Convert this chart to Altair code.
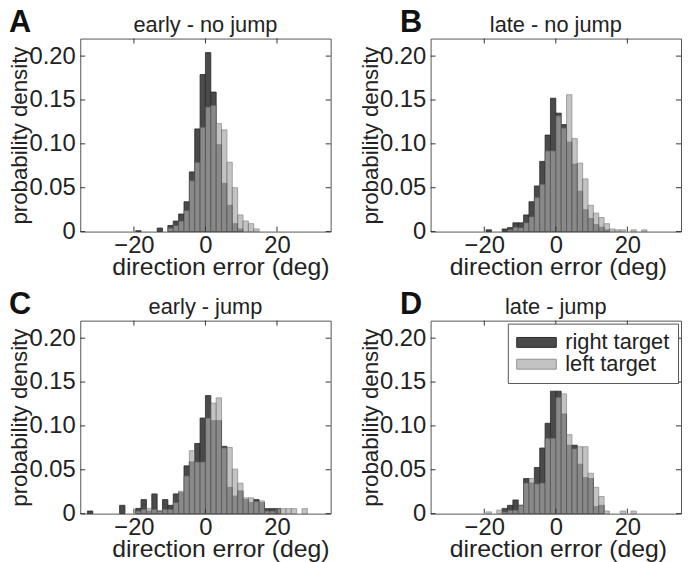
import altair as alt
import pandas as pd

BIN = 1.5
X_TICKS = [-20, 0, 20]
Y_TICKS = [0, 0.05, 0.10, 0.15, 0.20]
TARGETS = ["right target", "left target"]
TITLES = ["early - no jump", "late - no jump", "early - jump", "late - jump"]
LETTERS = ["A", "B", "C", "D"]

# bin index k -> bin [k*BIN, (k+1)*BIN]
A_K = [-13, -9, -7, -6, -5, -4, -3, -2, -1, 0, 1, 2, 3, 4, 5, 6, 7, 8, 9]
A_RIGHT = [0.001, 0.004, 0.007, 0.012, 0.020, 0.034, 0.068, 0.117, 0.179, 0.204,
           0.159, 0.099, 0.055, 0.030, 0.009, 0.003, 0, 0, 0]
A_LEFT = [0, 0, 0.004, 0.007, 0.012, 0.024, 0.058, 0.079, 0.119, 0.142,
          0.144, 0.123, 0.116, 0.079, 0.050, 0.019, 0.012, 0.009, 0.003]

B_K = [-13, -10, -9, -8, -7, -6, -5, -4, -3, -2, -1, 0, 1, 2, 3, 4, 5, 6, 7, 8, 9,
       10, 11, 12, 14, 16]
B_RIGHT = [0.002, 0.003, 0.0045, 0.010, 0.010, 0.019, 0.034, 0.052, 0.080, 0.110,
           0.152, 0.135, 0.122, 0.102, 0.077, 0.046, 0.025, 0.015, 0.008, 0.005,
           0.002, 0, 0, 0, 0, 0]
B_LEFT = [0, 0, 0.002, 0.005, 0.0045, 0.010, 0.017, 0.039, 0.054, 0.092, 0.092,
          0.132, 0.118, 0.156, 0.106, 0.078, 0.060, 0.030, 0.021, 0.016, 0.009,
          0.003, 0.002, 0.002, 0.002, 0.002]

C_K = [-22, -16, -13, -12, -11, -10, -9, -8, -7, -6, -5, -4, -3, -2, -1, 0, 1, 2, 3,
       4, 5, 6, 7, 8, 9, 10, 11, 12, 13, 14, 15, 16, 18]
C_RIGHT = [0.003, 0.0095, 0.006, 0.016, 0.003, 0.0225, 0.003, 0.016, 0.0095, 0.0225,
           0.024, 0.0545, 0.059, 0.080, 0.109, 0.1346, 0.106, 0.106, 0.0767, 0.030,
           0.020, 0.026, 0.016, 0.0126, 0.016, 0.0126, 0.0057, 0.0057, 0.0057, 0, 0,
           0, 0]
C_LEFT = [0, 0, 0.003, 0.005, 0.006, 0.005, 0.003, 0.005, 0.005, 0.0126, 0.0255,
          0.043, 0.0717, 0.059, 0.059, 0.109, 0.126, 0.132, 0.075, 0.0755, 0.0507,
          0.0347, 0.018, 0.018, 0.014, 0.0145, 0.003, 0.003, 0.0057, 0.0057, 0.0057,
          0.0057, 0.0057]

D_K = [-13, -11, -10, -9, -8, -7, -6, -5, -4, -3, -2, -1, 0, 1, 2, 3, 4, 5, 6, 7, 8,
       9, 12, 14]
D_RIGHT = [0, 0, 0.006, 0.0095, 0.0156, 0.0095, 0.040, 0.035, 0.0526, 0.0748, 0.103,
           0.1396, 0.1396, 0.1137, 0.078, 0.078, 0.0564, 0.041, 0.040, 0.008, 0.0095,
           0, 0, 0]
D_LEFT = [0.002, 0.004, 0.002, 0.004, 0.004, 0.0095, 0.035, 0.040, 0.034, 0.035,
          0.086, 0.086, 0.1327, 0.1365, 0.090, 0.074, 0.0763, 0.0763, 0.046, 0.030,
          0.0195, 0.003, 0.003, 0.003]

W, H = 253, 195
FONT = "Liberation Sans"
TXT = "#222222"


def make_df(ks, right, left):
    rows = []
    for name, vals in ((TARGETS[0], right), (TARGETS[1], left)):
        for k, v in zip(ks, vals):
            if v > 0:
                rows.append({"x0": k * BIN, "x1": (k + 1) * BIN,
                             "density": v, "target": name})
    return pd.DataFrame(rows)


xs = alt.Scale(domain=[-35, 35], nice=False, zero=False)
ys = alt.Scale(domain=[0, 0.22], nice=False, zero=True)


def panel(df, title, letter, letter_x, title_dx, legend):
    x_axis = alt.Axis(values=X_TICKS, ticks=False, domain=False, grid=False,
                      labelFontSize=24, labelPadding=2, labelColor=TXT,
                      title="direction error (deg)", titleFontSize=25,
                      titleFontWeight="normal", titleColor=TXT,
                      titleX=W / 2 + title_dx, titleY=43, titleAlign="center",
                      titleBaseline="alphabetic")
    y_axis = alt.Axis(values=Y_TICKS, ticks=False, domain=False, grid=False,
                      labelFontSize=24, labelPadding=5, labelColor=TXT,
                      labelExpr="datum.value == 0 ? '0' : format(datum.value, '.2f')",
                      title="probability density", titleFontSize=22.5,
                      titleFontWeight="normal", titleColor=TXT,
                      titleX=-54, titleY=H / 2, titleAngle=270,
                      titleAlign="center", titleBaseline="alphabetic")
    bars = alt.Chart(df).mark_bar(strokeWidth=0.8).encode(
        x=alt.X("x0:Q", scale=xs, axis=x_axis),
        x2="x1:Q",
        y=alt.Y("density:Q", stack=None, scale=ys, axis=y_axis),
        y2=alt.datum(0),
        color=alt.Color("target:N",
                        scale=alt.Scale(domain=TARGETS, range=["#4a4a4a", "#a8a8a8"]),
                        legend=legend),
        opacity=alt.Opacity("target:N",
                            scale=alt.Scale(domain=TARGETS, range=[1.0, 0.68]),
                            legend=legend),
        stroke=alt.Stroke("target:N",
                          scale=alt.Scale(domain=TARGETS, range=["#2a2a2a", "#5e5e5e"]),
                          legend=None),
    )
    xt = pd.DataFrame({"t": X_TICKS})
    yt = pd.DataFrame({"t": Y_TICKS})
    tick_x_bottom = alt.Chart(xt).mark_rule(color="#333333", strokeWidth=1).encode(
        x=alt.X("t:Q", scale=xs, axis=x_axis), y=alt.value(H), y2=alt.value(H - 5))
    tick_x_top = alt.Chart(xt).mark_rule(color="#333333", strokeWidth=1).encode(
        x=alt.X("t:Q", scale=xs, axis=x_axis), y=alt.value(0), y2=alt.value(5))
    tick_y_left = alt.Chart(yt).mark_rule(color="#333333", strokeWidth=1).encode(
        y=alt.Y("t:Q", scale=ys, axis=y_axis), x=alt.value(0), x2=alt.value(5))
    tick_y_right = alt.Chart(yt).mark_rule(color="#333333", strokeWidth=1).encode(
        y=alt.Y("t:Q", scale=ys, axis=y_axis), x=alt.value(W - 5), x2=alt.value(W))
    lab = alt.Chart(pd.DataFrame({"l": [letter]})).mark_text(
        align="left", baseline="alphabetic", fontSize=31, fontWeight="bold",
        font=FONT, color="#111111").encode(
        text="l:N", x=alt.value(letter_x), y=alt.value(-7))
    ttl = alt.Chart(pd.DataFrame({"t": [title]})).mark_text(
        align="center", baseline="alphabetic", fontSize=22, font=FONT,
        color=TXT).encode(text="t:N", x=alt.value(W / 2), y=alt.value(-7))
    return alt.layer(bars, tick_x_bottom, tick_x_top, tick_y_left, tick_y_right,
                     lab, ttl).properties(width=W, height=H)


leg = alt.Legend(title=None, orient="top-right", offset=3, labelFontSize=22,
                 labelFont=FONT, labelColor=TXT,
                 symbolType="M-1,-0.5L3,-0.5L3,0.5L-1,0.5Z", symbolSize=400,
                 symbolStrokeColor="#333333", symbolStrokeWidth=1,
                 labelOffset=28, padding=8, rowPadding=0,
                 strokeColor="#555555", fillColor="white")

pA = panel(make_df(A_K, A_RIGHT, A_LEFT), TITLES[0], LETTERS[0], -72, 15, None)
pB = panel(make_df(B_K, B_RIGHT, B_LEFT), TITLES[1], LETTERS[1], -31, 2, None)
pC = panel(make_df(C_K, C_RIGHT, C_LEFT), TITLES[2], LETTERS[2], -72, 15, None)
pD = panel(make_df(D_K, D_RIGHT, D_LEFT), TITLES[3], LETTERS[3], -31, 2, leg)

chart = alt.concat(
    pA, pB, pC, pD, columns=2, spacing={"row": 90, "column": 101}, bounds="flush"
).resolve_scale(
    color="independent", opacity="independent", stroke="independent"
).resolve_legend(
    color="independent", opacity="independent"
).properties(
    padding={"left": 0, "top": -5, "right": 0, "bottom": 0}
).configure(font=FONT).configure_view(stroke="#555555", strokeWidth=1)

chart.save("out.html", embed_options={"renderer": "svg", "actions": False})
